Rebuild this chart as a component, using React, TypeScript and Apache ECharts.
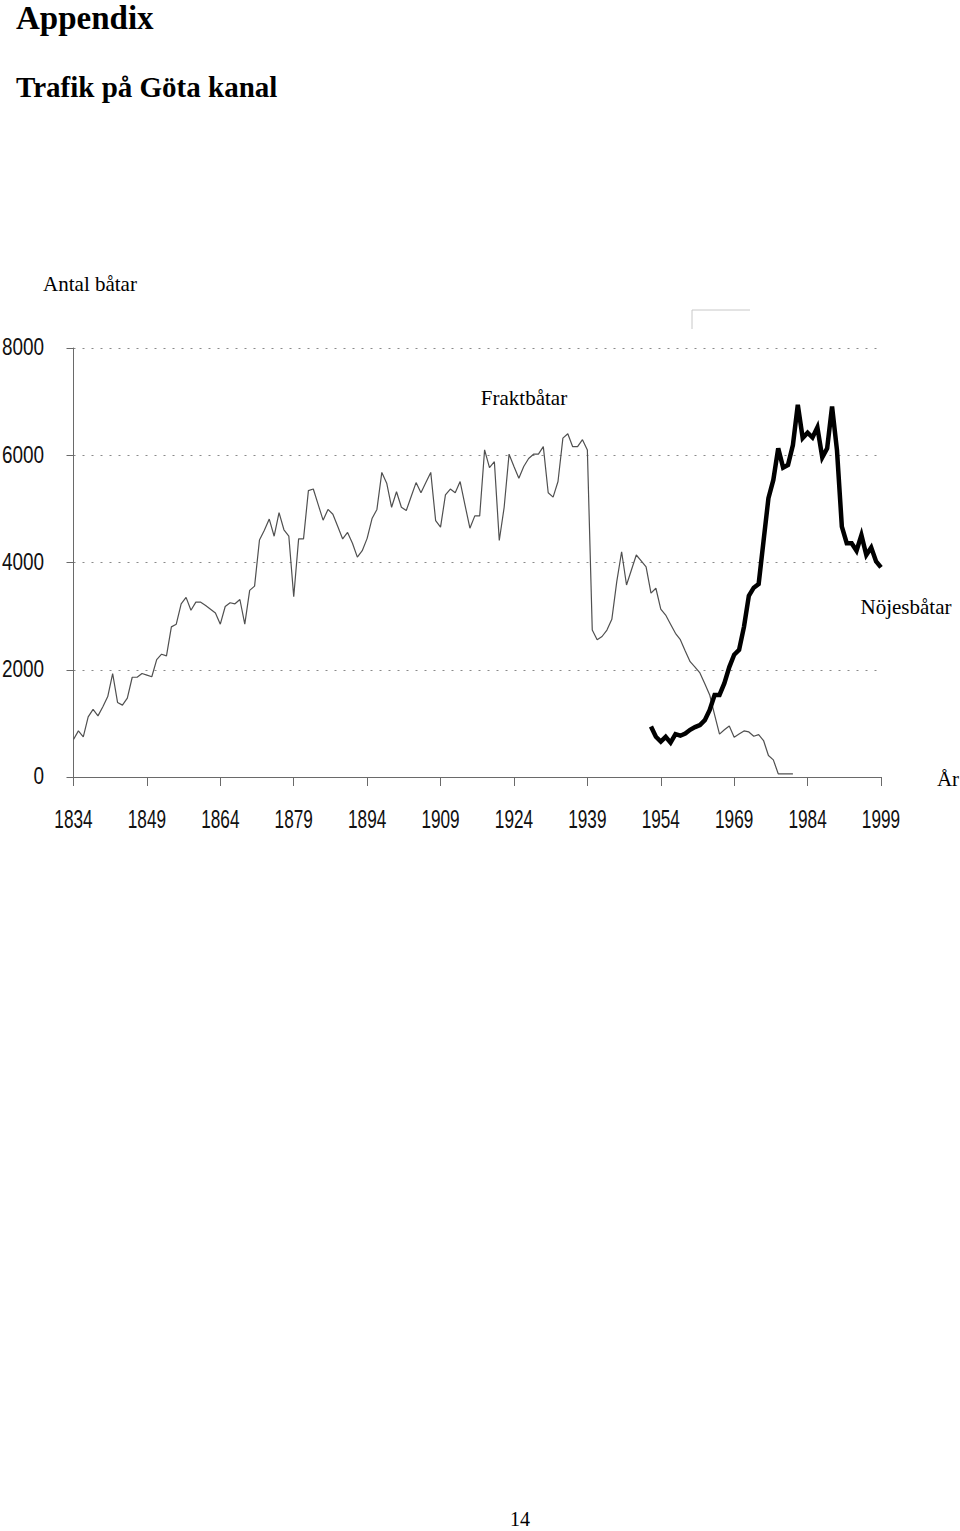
import React, { useEffect, useRef } from "react";
import * as echarts from "echarts";

// ---- data ----
const FIRST_YEAR = 1834;
const LAST_YEAR = 1999;
const years: string[] = [];
for (let y = FIRST_YEAR; y <= LAST_YEAR; y++) years.push(String(y));

// Fraktbåtar (freight boats), yearly 1834–1981
const FRAKT_START = 1834;
const fraktbatar: number[] = [
  700, 860, 750, 1120, 1260, 1140, 1310, 1500, 1930, 1390, // 1834-1843
  1340, 1470, 1860, 1860, 1930, 1900, 1870, 2190, 2290, 2260, // 1844-1853
  2800, 2850, 3230, 3350, 3110, 3260, 3260, 3200, 3130, 3060, // 1854-1863
  2850, 3180, 3250, 3230, 3310, 2850, 3480, 3560, 4420, 4600, // 1864-1873
  4810, 4490, 4930, 4610, 4490, 3360, 4440, 4440, 5340, 5370, // 1874-1883
  5080, 4790, 4990, 4900, 4670, 4440, 4560, 4360, 4100, 4220, // 1884-1893
  4450, 4820, 4990, 5680, 5480, 5030, 5320, 5030, 4970, 5230, // 1894-1903
  5490, 5300, 5490, 5680, 4780, 4660, 5260, 5370, 5300, 5510, // 1904-1913
  5070, 4640, 4870, 4870, 6100, 5770, 5880, 4410, 5030, 6020, // 1914-1923
  5790, 5570, 5790, 5940, 6020, 6020, 6160, 5300, 5220, 5510, // 1924-1933
  6320, 6400, 6160, 6160, 6290, 6100, 2740, 2560, 2620, 2740, // 1934-1943
  2940, 3640, 4200, 3580, 3860, 4140, 4030, 3920, 3430, 3520, // 1944-1953
  3130, 3020, 2850, 2680, 2560, 2350, 2150, 2050, 1940, 1740, // 1954-1963
  1530, 1160, 800, 880, 950, 740, 800, 860, 840, 760, // 1964-1973
  790, 680, 400, 320, 60, 60, 60, 60, // 1974-1981
];

// Nöjesbåtar (pleasure boats), yearly 1952–1999
const NOJES_START = 1952;
const nojesbatar: number[] = [
  940, 750, 660, 750, 640, 800, 770, 810, 880, 930, // 1952-1961
  970, 1060, 1250, 1530, 1530, 1750, 2050, 2280, 2370, 2800, // 1962-1971
  3380, 3530, 3600, 4400, 5200, 5540, 6130, 5770, 5820, 6190, // 1972-1981
  6940, 6320, 6420, 6330, 6520, 5960, 6130, 6910, 6100, 4670, // 1982-1991
  4360, 4360, 4220, 4510, 4140, 4280, 4020, 3910, // 1992-1999
];

const xTickLabels = ["1834", "1849", "1864", "1879", "1894", "1909", "1924", "1939", "1954", "1969", "1984", "1999"];
const yTickValues = [0, 2000, 4000, 6000, 8000];
const yTickLabels = ["0", "2000", "4000", "6000", "8000"];

const SERIF = "'Liberation Serif', 'Times New Roman', serif";
const SANS = "'Liberation Sans', Arial, sans-serif";

function alignSeries(values: number[], start: number): (number | null)[] {
  return years.map((y) => {
    const i = Number(y) - start;
    return i >= 0 && i < values.length ? values[i] : null;
  });
}

function txt(text: string, x: number, y: number, size: number, align: string, extra: any = {}) {
  return {
    type: "text",
    x,
    y,
    ...extra.el,
    style: {
      text,
      fontSize: size,
      fontFamily: extra.family || SERIF,
      fontWeight: extra.weight || "normal",
      fill: extra.fill || "#000",
      align,
      textAlign: align,
      verticalAlign: "middle",
      textVerticalAlign: "middle",
    },
  };
}

export default function App() {
  const ref = useRef<HTMLDivElement>(null);

  useEffect(() => {
    if (!ref.current) return;
    const chart = echarts.init(ref.current, undefined, { renderer: "svg" });
    chart.setOption({
      animation: false,
      backgroundColor: "#fff",
      grid: { left: 73.5, top: 348, width: 807.5, height: 429, containLabel: false },
      xAxis: {
        type: "category",
        data: years,
        boundaryGap: false,
        axisLine: { show: true, lineStyle: { color: "#6a6a6a", width: 1 } },
        axisTick: { show: true, interval: 14, length: 9, lineStyle: { color: "#6a6a6a", width: 1 } },
        axisLabel: { show: false },
        splitLine: { show: false },
      },
      yAxis: {
        type: "value",
        min: 0,
        max: 8000,
        interval: 2000,
        axisLine: { show: true, lineStyle: { color: "#6a6a6a", width: 1 } },
        axisTick: { show: true, length: 7, lineStyle: { color: "#6a6a6a", width: 1 } },
        axisLabel: { show: false },
        splitLine: { show: true, lineStyle: { color: "#8a8a8a", width: 1, type: [2, 7] } },
      },
      series: [
        {
          name: "Fraktbåtar",
          type: "line",
          data: alignSeries(fraktbatar, FRAKT_START),
          showSymbol: false,
          symbol: "none",
          connectNulls: false,
          lineStyle: { color: "#505050", width: 1.2 },
          z: 2,
        },
        {
          name: "Nöjesbåtar",
          type: "line",
          data: alignSeries(nojesbatar, NOJES_START),
          showSymbol: false,
          symbol: "none",
          connectNulls: false,
          lineStyle: { color: "#000", width: 4.5, join: "miter" },
          z: 3,
        },
      ],
    });

    const graphics: any[] = [];
    xTickLabels.forEach((lab) => {
      const idx = years.indexOf(lab);
      const px = chart.convertToPixel({ xAxisIndex: 0 }, idx) as number;
      graphics.push(txt(lab, px, 819, 26.5, "center", { family: SANS, fill: "#111", el: { scaleX: 0.65 } }));
    });
    yTickValues.forEach((v, i) => {
      const py = chart.convertToPixel({ yAxisIndex: 0 }, v) as number;
      graphics.push(txt(yTickLabels[i], 44, py - 1, 24.6, "right", { family: SANS, fill: "#111", el: { scaleX: 0.77 } }));
    });
    graphics.push(txt("Appendix", 16, 17.5, 33, "left", { weight: "bold" }));
    graphics.push(txt("Trafik på Göta kanal", 16, 87, 29, "left", { weight: "bold" }));
    graphics.push(txt("Antal båtar", 90, 284, 21, "center"));
    graphics.push(txt("Fraktbåtar", 524, 398, 21, "center"));
    graphics.push(txt("Nöjesbåtar", 906, 607, 21, "center"));
    graphics.push(txt("År", 948, 779, 21, "center"));
    graphics.push(txt("14", 520, 1519, 20, "center"));
    graphics.push({
      type: "polyline",
      shape: { points: [[692, 329], [692, 310], [750, 310]] },
      style: { stroke: "#c8c8c8", lineWidth: 1, fill: "none" },
    });
    chart.setOption({ graphic: graphics });

    return () => chart.dispose();
  }, []);

  return (
    <div
      ref={ref}
      style={{ position: "absolute", left: 0, top: 0, width: 960, height: 1531, background: "#fff" }}
    />
  );
}
